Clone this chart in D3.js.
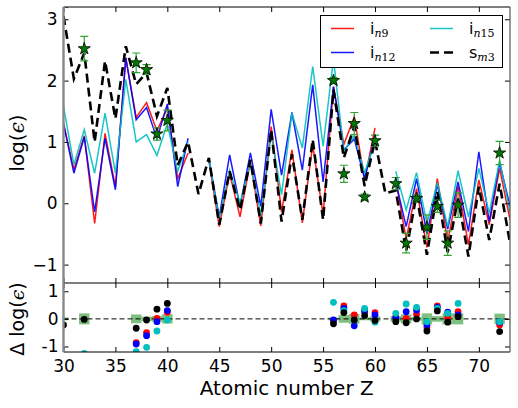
<!DOCTYPE html>
<meta charset="utf-8" />
<script src="https://d3js.org/d3.v7.min.js"></script>
<body style="margin:0;background:#fff">
<svg id="chart" width="518" height="408" style="display:block"></svg>
<script>
/* DATA -------------------------------------------------------------------- */
const zs   =[30,31,32,33,34,35,36,37,38,39,40,41,42,43,44,45,46,47,48,49,50,51,
             52,53,54,55,56,57,58,59,60,61,62,63,64,65,66,67,68,69,70,71,72,73];
const in9  =[1.3,0.55,1.1,-0.33,1.14,0.27,2.37,1.4,1.64,1.18,1.55,0.4,0.82,null,
             0.7,-0.38,0.49,-0.22,0.68,-0.37,1.25,-0.14,0.87,-0.32,0.95,-0.19,1.9,0.96,
             1.41,0.38,1.23,null,0.38,-0.58,0.24,-0.72,0.4,-0.63,0.27,-0.68,0.38,-0.35,0.57,-0.27];
const in12 =[1.3,0.49,1.08,-0.14,1.06,0.22,2.37,1.36,1.56,1.05,1.62,0.27,1.06,null,
             0.72,-0.22,0.79,-0.05,0.82,-0.05,1.53,0.46,1.48,0.54,1.93,0.35,1.9,0.87,
             1.05,0.4,1.1,null,0.35,-0.38,0.4,-0.5,0.3,-0.42,0.35,-0.46,0.84,-0.3,0.66,-0.05];
const in15 =[1.58,0.63,1.2,0.49,1.47,0.49,2.02,1.0,1.12,0.78,1.3,0.52,1.0,null,
             0.72,-0.25,0.54,0.0,0.65,-0.19,1.12,0.14,1.47,0.9,2.23,0.93,2.35,0.85,
             1.1,0.5,1.0,null,0.52,-0.11,0.5,-0.33,0.33,-0.38,0.53,-0.22,0.57,-0.16,0.7,-0.14];
const sm3  =[3.05,2.03,2.45,1.0,2.32,1.38,2.56,1.94,2.13,1.42,1.88,0.62,1.0,0.15,
             0.74,-0.35,0.52,-0.11,0.71,-0.33,1.2,-0.3,0.8,-0.27,1.04,-0.27,1.85,0.74,
             1.25,0.28,1.02,0.16,0.21,-0.78,0.14,-0.84,0.19,-0.8,0.08,-0.87,0.27,-0.6,0.32,-0.65];

/* observed abundances */
const obsZ  =[30,32,37,38,39,40,56,57,58,59,60,62,63,64,65,66,67,68,72];
const obs   =[3.27,2.52,2.29,2.18,1.13,1.35,2.0,0.48,1.3,0.1,1.02,0.32,-0.65,0.08,-0.39,-0.05,-0.65,-0.03,0.82];
const obsErr=[0.05,0.2,0.16,0.08,0.1,0.17,0.05,0.14,0.18,0.05,0.09,0.1,0.16,0.06,0.2,0.1,0.2,0.2,0.19];

const dIn9 =[-1.97,-1.42,-0.86,-0.5,0.02,0.24,-0.08,0.47,0.14,0.32,0.23,0.08,0.02,0.17,-0.31,0.47,0.04,0.26,-0.22];
const dIn12=[-1.97,-1.44,-0.91,-0.61,-0.1,0.3,-0.04,0.38,-0.25,0.26,0.14,0.04,0.26,0.32,-0.22,0.42,0.24,0.14,-0.12];
const dIn15=[-1.69,-1.25,-1.19,-1.03,-0.44,-0.04,0.6,0.3,-0.04,0.38,-0.12,0.2,0.54,0.42,-0.1,0.38,0.2,0.56,-0.1];
const dSm3 =[-0.22,-0.02,-0.34,-0.04,0.35,0.56,-0.18,0.23,-0.04,0.12,-0.06,-0.1,-0.14,0,-0.44,0.29,-0.12,0.08,-0.46];

const xTicks=[30,35,40,45,50,55,60,65,70];
const yTicks=[-1,0,1,2,3];
const dTicks=[-1,0,1];

/* CONFIG ------------------------------------------------------------------ */
const L=63.5,R=510,T1=7,B1=283,B2=352;
const font="'DejaVu Sans',sans-serif", mathFont="'DejaVu Serif',serif";
const series=[
  {name:"i",sub:"n9", vals:in9, d:dIn9, col:"#ff0000"},
  {name:"i",sub:"n12",vals:in12,d:dIn12,col:"#0000ff"},
  {name:"i",sub:"n15",vals:in15,d:dIn15,col:"#00bfbf"},
  {name:"s",sub:"m3", vals:sm3, d:dSm3, col:"#000"}
];

const svg=d3.select("#chart");
const x =d3.scaleLinear().domain([30,73]).range([L,R]);
const y =d3.scaleLinear().domain([-1.3,3.2]).range([B1,T1]);
const yd=d3.scaleLinear().domain([-1.2,1.3]).range([B2,B1]);

const defs=svg.append("defs");
defs.append("clipPath").attr("id","c1").append("rect")
  .attr("x",L).attr("y",T1).attr("width",R-L).attr("height",B1-T1);
defs.append("clipPath").attr("id","c2").append("rect")
  .attr("x",L).attr("y",B1).attr("width",R-L).attr("height",B2-B1);

/* main panel -------------------------------------------------------------- */
const g1=svg.append("g").attr("clip-path","url(#c1)");
const line=d3.line().defined(d=>d[1]!=null).x(d=>x(d[0])).y(d=>y(d[1]));

series.forEach((s,i)=>{
  g1.append("path").datum(zs.map((z,k)=>[z,s.vals[k]]))
    .attr("d",line).attr("fill","none")
    .attr("stroke",s.col)
    .attr("stroke-width",i===3?2.6:1.5)
    .attr("stroke-opacity",i===3?1:0.9)
    .attr("stroke-dasharray",i===3?"9,5":null);
});

const obsData=obsZ.map((z,k)=>({z,v:obs[k],e:obsErr[k]}));
const eb=g1.selectAll("g.eb").data(obsData).join("g").attr("class","eb")
  .attr("stroke","#33a033").attr("stroke-width",1.2);
eb.append("line").attr("x1",d=>x(d.z)).attr("x2",d=>x(d.z))
  .attr("y1",d=>y(d.v-d.e)).attr("y2",d=>y(d.v+d.e));
eb.append("line").attr("x1",d=>x(d.z)-4).attr("x2",d=>x(d.z)+4)
  .attr("y1",d=>y(d.v-d.e)).attr("y2",d=>y(d.v-d.e));
eb.append("line").attr("x1",d=>x(d.z)-4).attr("x2",d=>x(d.z)+4)
  .attr("y1",d=>y(d.v+d.e)).attr("y2",d=>y(d.v+d.e));

g1.selectAll("path.star").data(obsData).join("path").attr("class","star")
  .attr("d",d3.symbol(d3.symbolStar,46))
  .attr("transform",d=>`translate(${x(d.z)},${y(d.v)})`)
  .attr("fill","#007a00").attr("stroke","#000").attr("stroke-width",0.8);

/* residual panel ---------------------------------------------------------- */
const g2=svg.append("g").attr("clip-path","url(#c2)");
g2.selectAll("rect.band").data(obsData).join("rect").attr("class","band")
  .attr("x",d=>x(d.z-0.5)).attr("width",d=>x(d.z+0.5)-x(d.z-0.5))
  .attr("y",d=>yd(d.e)).attr("height",d=>yd(-d.e)-yd(d.e))
  .attr("fill","green").attr("fill-opacity",0.5);

g2.append("line").attr("x1",L).attr("x2",R).attr("y1",yd(0)).attr("y2",yd(0))
  .attr("stroke","#000").attr("stroke-width",1).attr("stroke-dasharray","5,3");

series.forEach(s=>{
  g2.selectAll(null).data(obsZ.map((z,k)=>[z,s.d[k]])).join("circle")
    .attr("cx",d=>x(d[0])).attr("cy",d=>yd(d[1])).attr("r",3.4)
    .attr("fill",s.col).attr("stroke","none");
});

/* axes -------------------------------------------------------------------- */
function styleAxis(sel){
  sel.select(".domain").remove();
  sel.selectAll(".tick line").attr("stroke","#000");
  sel.selectAll("text").attr("font-family",font).attr("font-size",17).attr("fill","#000");
}
const noLab=()=>"";
svg.append("g").attr("transform",`translate(0,${T1})`)
  .call(d3.axisTop(x).tickValues(xTicks).tickSize(-5).tickFormat(noLab)).call(styleAxis);
svg.append("g").attr("transform",`translate(0,${B1})`)
  .call(d3.axisBottom(x).tickValues(xTicks).tickSize(-5).tickFormat(noLab)).call(styleAxis);
svg.append("g").attr("transform",`translate(0,${B1})`)
  .call(d3.axisTop(x).tickValues(xTicks).tickSize(-5).tickFormat(noLab)).call(styleAxis);
svg.append("g").attr("transform",`translate(0,${B2})`)
  .call(d3.axisBottom(x).tickValues(xTicks).tickSize(-5).tickPadding(8)).call(styleAxis);

svg.append("g").attr("transform",`translate(${L},0)`)
  .call(d3.axisLeft(y).tickValues(yTicks).tickSize(-5).tickPadding(6)
        .tickFormat(d3.format("d"))).call(styleAxis);
svg.append("g").attr("transform",`translate(${R},0)`)
  .call(d3.axisRight(y).tickValues(yTicks).tickSize(-5).tickFormat(noLab)).call(styleAxis);
svg.append("g").attr("transform",`translate(${L},0)`)
  .call(d3.axisLeft(yd).tickValues(dTicks).tickSize(-5).tickPadding(5)
        .tickFormat(d=>d<0?"-"+Math.abs(d):d)).call(styleAxis);
svg.append("g").attr("transform",`translate(${R},0)`)
  .call(d3.axisRight(yd).tickValues(dTicks).tickSize(-5).tickFormat(noLab)).call(styleAxis);

/* spines */
[[L,T1,R,T1,"#000",1],[L,B1,R,B1,"#000",1.2],[L,B2,R,B2,"#000",1],
 [R,T1,R,B2,"#555",1.2],[L,T1,L,B2,"#888",2.4]].forEach(([x1,y1,x2,y2,c,w])=>
  svg.append("line").attr("x1",x1).attr("y1",y1).attr("x2",x2).attr("y2",y2)
     .attr("stroke",c).attr("stroke-width",w));

/* labels */
svg.append("text").attr("x",(L+R)/2).attr("y",395).attr("text-anchor","middle")
  .attr("font-family",font).attr("font-size",20).text("Atomic number Z");

function epsLabel(txt,cx,cy,size){
  const t=svg.append("text").attr("transform",`translate(${cx},${cy}) rotate(-90)`)
    .attr("text-anchor","middle").attr("font-family",font).attr("font-size",size);
  t.append("tspan").text(txt);
  t.append("tspan").attr("font-family",mathFont).attr("font-style","italic").text("ϵ");
  t.append("tspan").text(")");
}
epsLabel("log(",24,143,20);
epsLabel("Δ log(",24,319,19);

/* legend */
const lg=svg.append("g");
lg.append("rect").attr("x",320.5).attr("y",15.5).attr("width",182).attr("height",52)
  .attr("fill","#fff").attr("stroke","#000").attr("stroke-width",1);
series.forEach((s,i)=>{
  const cx=i<2?331:430, cy=i%2===0?28.5:52.5, tx=i<2?370:469;
  lg.append("line").attr("x1",cx).attr("x2",cx+23).attr("y1",cy).attr("y2",cy)
    .attr("stroke",s.col).attr("stroke-width",i===3?2.6:1.5)
    .attr("stroke-opacity",i===3?1:0.9)
    .attr("stroke-dasharray",i===3?"9,5":null);
  const t=lg.append("text").attr("x",tx).attr("y",cy+5)
    .attr("font-family",font).attr("font-size",16);
  t.append("tspan").text(s.name);
  t.append("tspan").attr("dy",3).attr("font-family",mathFont).attr("font-size",11)
    .attr("font-style","italic").text(s.sub[0]);
  t.append("tspan").attr("font-family",mathFont).attr("font-size",11).text(s.sub.slice(1));
});
</script>
</body>
